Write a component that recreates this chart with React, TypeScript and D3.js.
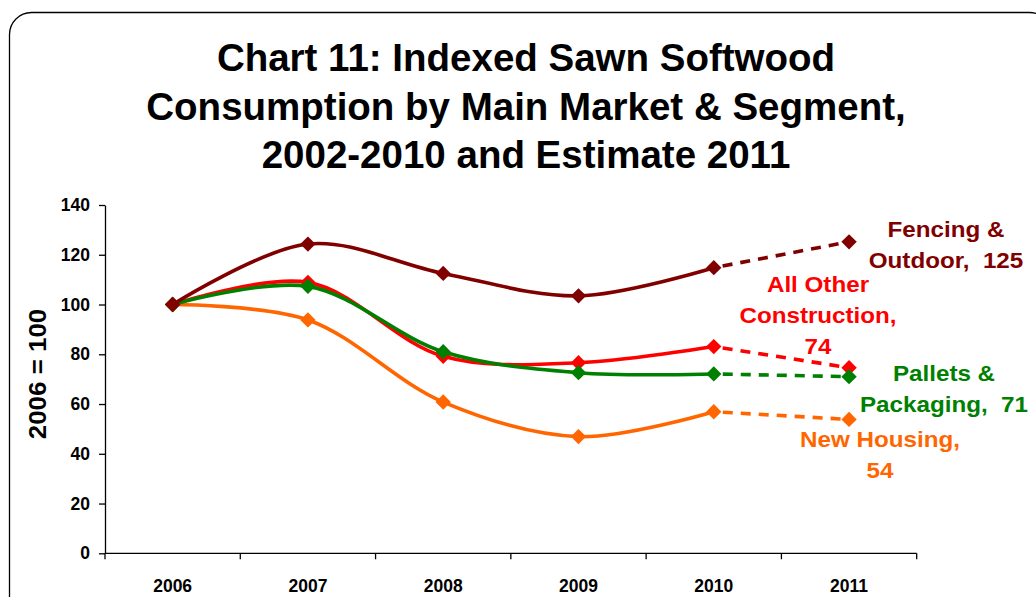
import { useEffect, useRef } from "react"
import * as d3 from "d3"

const years = ["2006", "2007", "2008", "2009", "2010", "2011"]
const yTicks = [0, 20, 40, 60, 80, 100, 120, 140]

const fencing = [100, 124.3, 112.5, 103.5, 114.8, 125.2]
const allOther = [100, 108.9, 79.2, 76.6, 83.1, 74.6]
const pallets = [100, 107.3, 81, 72.6, 72.1, 71]
const housing = [100, 93.8, 60.8, 46.9, 56.9, 53.8]

const titleLines = [
  "Chart 11: Indexed Sawn Softwood",
  "Consumption by Main Market & Segment,",
  "2002-2010 and Estimate 2011",
]

type Series = {
  name: string
  values: number[]
  color: string
  label: string[]
  labelX: number
  labelY: number
}

// draw order: last one ends on top
const series: Series[] = [
  { name: "New Housing", values: housing, color: "#ff6600", label: ["New Housing,", "54"], labelX: 880, labelY: 447 },
  { name: "All Other Construction", values: allOther, color: "#ff0000", label: ["All Other", "Construction,", "74"], labelX: 818, labelY: 292 },
  { name: "Pallets & Packaging", values: pallets, color: "#008000", label: ["Pallets &", "Packaging,  71"], labelX: 944, labelY: 381 },
  { name: "Fencing & Outdoor", values: fencing, color: "#800000", label: ["Fencing &", "Outdoor,  125"], labelX: 946, labelY: 237 },
]

const FONT = "'Liberation Sans', Arial, sans-serif"

export default function App() {
  const svgRef = useRef<SVGSVGElement | null>(null)

  useEffect(() => {
    if (!svgRef.current) return
    const width = 1036
    const height = 597
    const plot = { left: 105, right: 916.7, top: 205, bottom: 553.3 }

    const svg = d3.select(svgRef.current).attr("width", width).attr("height", height)
    svg.selectAll("*").remove()

    svg.append("rect").attr("width", width).attr("height", height).attr("fill", "#fff")

    // outer rounded border
    svg
      .append("rect")
      .attr("x", 9.5)
      .attr("y", 12.5)
      .attr("width", 1042)
      .attr("height", 610)
      .attr("rx", 22)
      .attr("fill", "none")
      .attr("stroke", "#000")
      .attr("stroke-width", 1.3)

    // title
    svg
      .append("g")
      .selectAll("text")
      .data(titleLines)
      .join("text")
      .attr("x", 526)
      .attr("y", (_, i) => 71 + i * 48.5)
      .attr("text-anchor", "middle")
      .attr("font-family", FONT)
      .attr("font-weight", "bold")
      .attr("font-size", 38.5)
      .text(d => d)

    const x = d3.scaleBand<string>().domain(years).range([plot.left, plot.right]).padding(0)
    const y = d3.scaleLinear().domain([0, 140]).range([plot.bottom, plot.top])
    const cx = (i: number) => (x(years[i]) ?? 0) + x.bandwidth() / 2

    // Y axis
    const yAxis = svg
      .append("g")
      .attr("transform", `translate(${plot.left},0)`)
      .call(d3.axisLeft(y).tickValues(yTicks).tickSize(6).tickPadding(9).tickSizeOuter(0))
    yAxis.select(".domain").attr("stroke-width", 1.3)
    yAxis.selectAll("line").attr("stroke-width", 1.3)
    yAxis
      .selectAll("text")
      .attr("font-family", FONT)
      .attr("font-weight", "bold")
      .attr("font-size", 17.5)
      .attr("fill", "#000")

    // X axis: ticks at band edges, labels centred
    const xg = svg.append("g")
    xg.append("line")
      .attr("x1", plot.left)
      .attr("x2", plot.right)
      .attr("y1", plot.bottom)
      .attr("y2", plot.bottom)
      .attr("stroke", "#000")
      .attr("stroke-width", 1.3)
    const edges = years.map(yr => x(yr) ?? 0).concat([plot.right])
    xg.selectAll("line.tick")
      .data(edges)
      .join("line")
      .attr("class", "tick")
      .attr("x1", d => d)
      .attr("x2", d => d)
      .attr("y1", plot.bottom)
      .attr("y2", plot.bottom + 6)
      .attr("stroke", "#000")
      .attr("stroke-width", 1.3)
    xg.selectAll("text")
      .data(years)
      .join("text")
      .attr("x", (_, i) => cx(i))
      .attr("y", 592)
      .attr("text-anchor", "middle")
      .attr("font-family", FONT)
      .attr("font-weight", "bold")
      .attr("font-size", 17.5)
      .text(d => d)

    // Y axis title
    svg
      .append("text")
      .attr("transform", `translate(46,374) rotate(-90) scale(1.08,1)`)
      .attr("text-anchor", "middle")
      .attr("font-family", FONT)
      .attr("font-weight", "bold")
      .attr("font-size", 24)
      .text("2006 = 100")

    const solid = d3
      .line<number>()
      .x((_, i) => cx(i))
      .y(d => y(d))
      .curve(d3.curveCatmullRom.alpha(0.5))

    const straight = d3
      .line<number>()
      .x((_, i) => cx(i + 4))
      .y(d => y(d))

    const diamond = d3.symbol().type(d3.symbolDiamond2).size(150)

    series.forEach(s => {
      const g = svg.append("g")
      g.append("path")
        .attr("d", solid(s.values.slice(0, 5)))
        .attr("fill", "none")
        .attr("stroke", s.color)
        .attr("stroke-width", 3.6)
        .attr("stroke-linejoin", "round")
      g.append("path")
        .attr("d", straight(s.values.slice(4, 6)))
        .attr("fill", "none")
        .attr("stroke", s.color)
        .attr("stroke-width", 3.6)
        .attr("stroke-dasharray", "10,8")
        .attr("stroke-dashoffset", -9)
      g.selectAll("path.m")
        .data(s.values)
        .join("path")
        .attr("class", "m")
        .attr("d", diamond)
        .attr("transform", (d, i) => `translate(${cx(i)},${y(d)})`)
        .attr("fill", s.color)
    })

    // end labels
    series.forEach(s => {
      svg
        .append("g")
        .attr("transform", `translate(${s.labelX},${s.labelY}) scale(1.1,1)`)
        .selectAll("text")
        .data(s.label)
        .join("text")
        .attr("x", 0)
        .attr("y", (_, i) => i * 31)
        .attr("text-anchor", "middle")
        .attr("font-family", FONT)
        .attr("font-weight", "bold")
        .attr("font-size", 22)
        .attr("fill", s.color)
        .style("white-space", "pre")
        .text(d => d)
    })
  }, [])

  return (
    <div style={{ position: "absolute", left: 0, top: 0 }}>
      <svg ref={svgRef} style={{ display: "block" }} />
    </div>
  )
}
